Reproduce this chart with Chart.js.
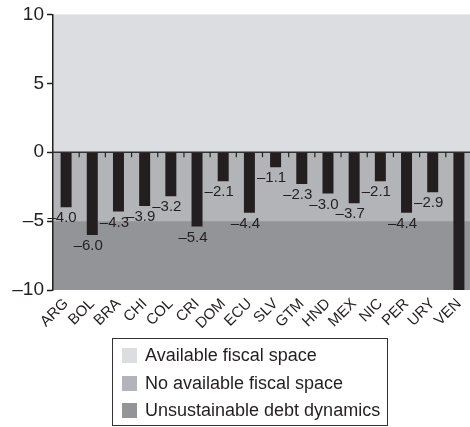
<!DOCTYPE html>
<html>
<head>
<meta charset="utf-8">
<script src="https://cdn.jsdelivr.net/npm/chart.js@4.4.1/dist/chart.umd.min.js"></script>
<style>
  html, body { margin: 0; padding: 0; background: #fff; overflow: hidden; }
  #wrap { position: relative; width: 472px; height: 427px; }
  #legend {
    position: absolute; left: 112px; top: 338px; width: 276px; height: 88px;
    border: 1px solid #333; box-sizing: border-box; padding-top: 3px;
    font-family: "Liberation Sans", Arial, sans-serif; font-size: 18px; color: #231f20;
  }
  .row { height: 27.5px; display: flex; align-items: center; padding-left: 9px; }
  .sw { width: 15px; height: 15px; margin-right: 8px; flex: none; }
</style>
</head>
<body>
<div id="wrap">
  <canvas id="chart" width="472" height="427"></canvas>
  <div id="legend"></div>
</div>
<script>
const categories = ["ARG", "BOL", "BRA", "CHI", "COL", "CRI", "DOM", "ECU", "SLV", "GTM", "HND", "MEX", "NIC", "PER", "URY", "VEN"];
const balances = [-4.0, -6.0, -4.3, -3.9, -3.2, -5.4, -2.1, -4.4, -1.1, -2.3, -3.0, -3.7, -2.1, -4.4, -2.9, -10];
const yTicks = [-10, -5, 0, 5, 10];

const zoneNames = ["Available fiscal space", "No available fiscal space", "Unsustainable debt dynamics"];
const zoneTops = [10, 0, -5];
const zoneBottoms = [0, -5, -10];
const zoneColors = ["#dcdde0", "#b3b4b8", "#939498"];

const FONT = '"Liberation Sans", Arial, sans-serif';
const INK = "#231f20";

// en dash for negatives, like the print version
const fmt = (v, digits) => {
    const s = Math.abs(v).toFixed(digits);
    return v < 0 ? "\u2013" + s : s;
};

// grey zones behind everything
const zonesPlugin = {
    id: "zones",
    beforeDraw(chart) {
        const { ctx, chartArea: a, scales: { y } } = chart;
        ctx.save();
        zoneColors.forEach((c, i) => {
            const t = y.getPixelForValue(zoneTops[i]);
            const b = y.getPixelForValue(zoneBottoms[i]);
            ctx.fillStyle = c;
            ctx.fillRect(a.left, t, a.right - a.left, b - t);
        });
        ctx.restore();
    }
};

// zero line with small category ticks
const zeroPlugin = {
    id: "zero",
    beforeDatasetsDraw(chart) {
        const { ctx, chartArea: a, scales: { x, y } } = chart;
        const y0 = y.getPixelForValue(0);
        ctx.save();
        ctx.strokeStyle = "#333";
        ctx.lineWidth = 1.5;
        ctx.beginPath();
        ctx.moveTo(a.left, y0);
        ctx.lineTo(a.right, y0);
        ctx.stroke();
        ctx.lineWidth = 1.2;
        ctx.strokeStyle = INK;
        for (let i = 0; i < categories.length - 1; i++) {
            const bx = (x.getPixelForValue(i) + x.getPixelForValue(i + 1)) / 2;
            ctx.beginPath();
            ctx.moveTo(bx, y0);
            ctx.lineTo(bx, y0 + 5);
            ctx.stroke();
        }
        ctx.restore();
    }
};

// value labels under bar ends
const labelPlugin = {
    id: "valueLabels",
    afterDatasetsDraw(chart) {
        const { ctx, scales: { y } } = chart;
        const meta = chart.getDatasetMeta(0);
        ctx.save();
        ctx.font = "15px " + FONT;
        ctx.fillStyle = INK;
        ctx.textAlign = "center";
        ctx.textBaseline = "middle";
        meta.data.forEach((bar, i) => {
            const v = balances[i];
            if (v <= y.min) return;
            ctx.fillText(fmt(v, 1), bar.x - 4, bar.y + 11);
        });
        ctx.restore();
    }
};

new Chart(document.getElementById("chart"), {
    type: "bar",
    data: {
        labels: categories,
        datasets: [{
            data: balances,
            backgroundColor: INK,
            borderWidth: 0,
            barPercentage: 0.42,
            categoryPercentage: 1
        }]
    },
    options: {
        responsive: false,
        animation: false,
        layout: { padding: { top: 12, right: 0, bottom: 0, left: 0 } },
        plugins: { legend: { display: false }, tooltip: { enabled: false } },
        scales: {
            x: {
                offset: true,
                grid: { display: false },
                border: { display: false },
                ticks: {
                    autoSkip: false, maxRotation: 45, minRotation: 45,
                    padding: -3, color: INK, font: { family: FONT, size: 15 }
                },
                afterFit(s) { s.height = 137; }
            },
            y: {
                min: -10, max: 10,
                grid: { drawOnChartArea: false, tickLength: 6, color: INK, tickWidth: 1.5 },
                border: { color: INK, width: 1.5 },
                afterBuildTicks(s) { s.ticks = yTicks.map(v => ({ value: v })); },
                ticks: {
                    padding: 3, color: INK, font: { family: FONT, size: 19 },
                    callback: v => fmt(v, 0)
                },
                afterFit(s) { s.width = 53; }
            }
        }
    },
    plugins: [zonesPlugin, zeroPlugin, labelPlugin]
});

const legend = document.getElementById("legend");
zoneNames.forEach((name, i) => {
    const row = document.createElement("div");
    row.className = "row";
    row.innerHTML = '<span class="sw" style="background:' + zoneColors[i] + '"></span><span>' + name + "</span>";
    legend.appendChild(row);
});
</script>
</body>
</html>
